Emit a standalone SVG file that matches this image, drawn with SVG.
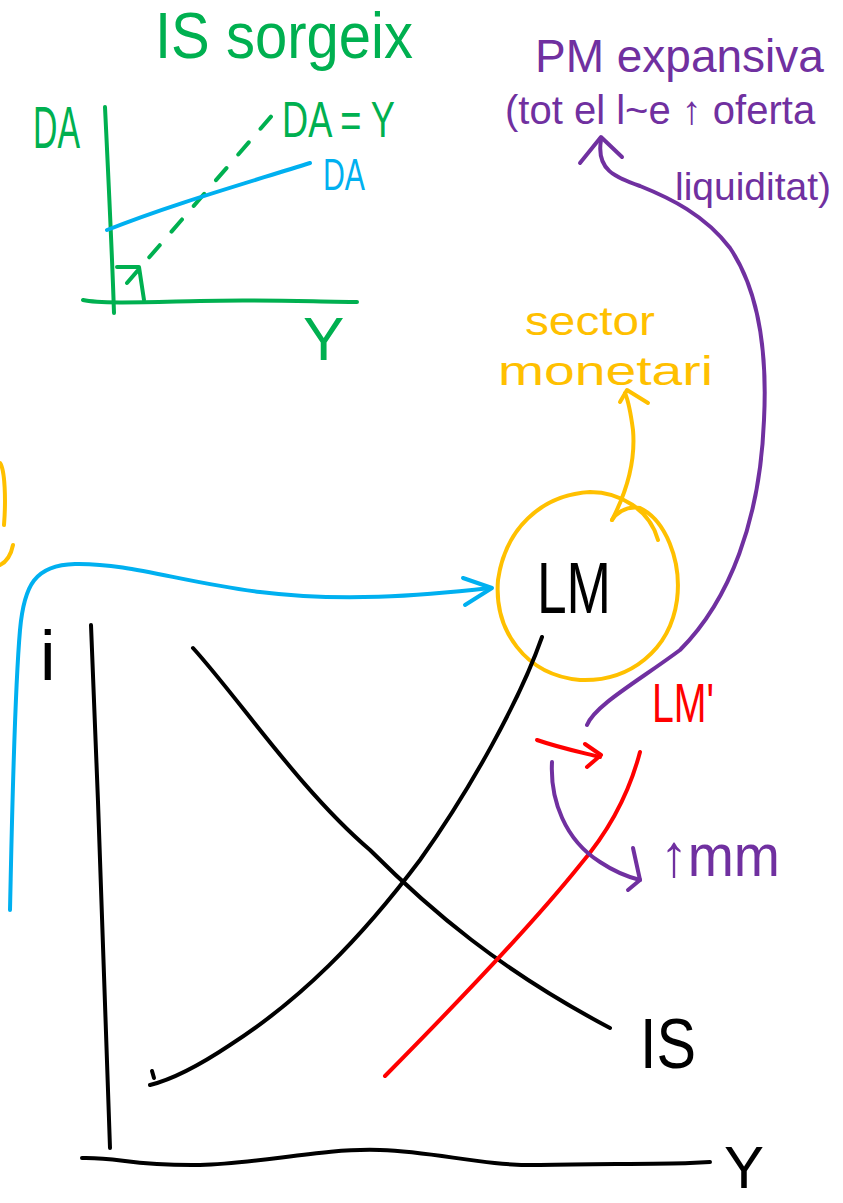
<svg xmlns="http://www.w3.org/2000/svg" width="843" height="1203" viewBox="0 0 843 1203">
<style>
.s{fill:none;stroke-width:4;stroke-linecap:round;stroke-linejoin:round}
.t{font-family:"Liberation Sans",Arial,sans-serif;font-weight:normal}
.g{stroke:#00b050}.gf{fill:#00b050}
.b{stroke:#00b0f0}.bf{fill:#00b0f0}
.p{stroke:#7030a0}.pf{fill:#7030a0}
.o{stroke:#ffc000}.of{fill:#ffc000}
.r{stroke:#ff0000}.rf{fill:#ff0000}
.k{stroke:#000}.kf{fill:#000}
</style>
<rect width="843" height="1203" fill="#fff"/>

<g id="top-chart">
  <text class="t gf" x="155" y="58" font-size="64" textLength="258" lengthAdjust="spacingAndGlyphs">IS sorgeix</text>
  <text class="t gf" x="33" y="148" font-size="60" textLength="47" lengthAdjust="spacingAndGlyphs">DA</text>
  <path class="s g" d="M105,107 C108,170 112,250 114,313"/>
  <path class="s g" d="M83,300 C100,304 150,302 200,301 C260,299 320,302 357,302"/>
  <path class="s g" d="M117,267 L139,267 L144,300"/>
  <path class="s g" d="M127,283 L275,112" stroke-dasharray="16,18"/>
  <text class="t gf" x="282" y="137" font-size="50" textLength="113" lengthAdjust="spacingAndGlyphs">DA = Y</text>
  <path class="s b" d="M107,230 C170,205 240,185 310,163"/>
  <text class="t bf" x="323" y="190" font-size="44" textLength="42" lengthAdjust="spacingAndGlyphs">DA</text>
  <text class="t gf" x="303" y="360" font-size="62">Y</text>
</g>

<g id="pm-label">
  <text class="t pf" x="535" y="72" font-size="46">PM expansiva</text>
  <text class="t pf" x="505" y="124" font-size="40">(tot el l~e ↑ oferta</text>
  <text class="t pf" x="675" y="200" font-size="39">liquiditat)</text>
</g>

<g id="sector-label">
  <text class="t of" x="525" y="335" font-size="40" textLength="130" lengthAdjust="spacingAndGlyphs">sector</text>
  <text class="t of" x="498" y="385" font-size="40" textLength="215" lengthAdjust="spacingAndGlyphs">monetari</text>
</g>

<g id="lm-node">
  <path class="s o" d="M658,540 C650,510 620,492 590,492 C540,495 505,530 498,580 C494,630 525,675 580,680 C630,682 670,650 677,600 C682,560 665,520 640,508 C625,505 615,515 612,520"/>
  <text class="t kf" x="537" y="613" font-size="72" textLength="74" lengthAdjust="spacingAndGlyphs">LM</text>
</g>

<g id="left-fragment">
  <path class="s o" d="M0,463 C5,470 6,500 4,525"/>
  <path class="s o" d="M0,565 C6,562 11,555 13,545"/>
</g>

<g id="main-chart">
  <text class="t kf" x="40" y="680" font-size="70">i</text>
  <path class="s k" d="M91,625 C98,800 106,1000 110,1148"/>
  <path class="s k" d="M82,1158 C120,1157 130,1166 200,1165 C260,1164 320,1148 380,1150 C440,1152 480,1166 540,1165 C600,1164 660,1164 690,1163 L710,1162"/>
  <text class="t kf" x="724" y="1188" font-size="60">Y</text>
  <path class="s k" d="M542,637 C520,700 470,790 420,860 C360,940 300,1000 230,1045 C200,1065 170,1080 150,1085"/>
  <path class="s k" d="M152,1071 L154,1078" stroke-width="2"/>
  <path class="s k" d="M193,648 C240,700 300,790 370,850 C430,910 500,970 610,1028"/>
  <text class="t kf" x="640" y="1068" font-size="70" textLength="56" lengthAdjust="spacingAndGlyphs">IS</text>
</g>

<g id="lm-prime">
  <path class="s r" d="M640,752 C630,790 610,830 580,865 C540,915 470,990 385,1076"/>
  <text class="t rf" x="652" y="722" font-size="56" textLength="62" lengthAdjust="spacingAndGlyphs">LM'</text>
</g>

<g id="mm-label">
  <text class="t pf" x="660" y="876" font-size="60" textLength="120" lengthAdjust="spacingAndGlyphs">↑mm</text>
</g>

<g id="connectors">
  <path class="s b" d="M10,910 C12,820 14,700 20,630 C24,585 35,565 75,564 C130,563 180,582 260,592 C340,602 420,596 490,588"/>
  <path class="s b" d="M463,578 L492,588 L465,605"/>
  <path class="s p" d="M587,725 C595,705 640,680 680,650 C730,600 760,520 764,420 C768,340 755,285 730,248 C705,215 670,198 640,186 C615,177 596,170 601,140"/>
  <path class="s p" d="M580,163 L601,137 L622,157" stroke-width="5"/>
  <path class="s o" d="M612,520 C625,495 636,465 633,430 C631,415 628,400 625,393"/>
  <path class="s o" d="M620,402 L627,390 L648,403"/>
  <path class="s r" d="M537,740 C560,748 580,752 600,757"/>
  <path class="s r" d="M585,744 L601,755 L587,767"/>
  <path class="s p" d="M552,762 C550,800 565,840 600,862 C615,872 628,877 640,880"/>
  <path class="s p" d="M633,848 L640,880 L628,890"/>
</g>
</svg>
